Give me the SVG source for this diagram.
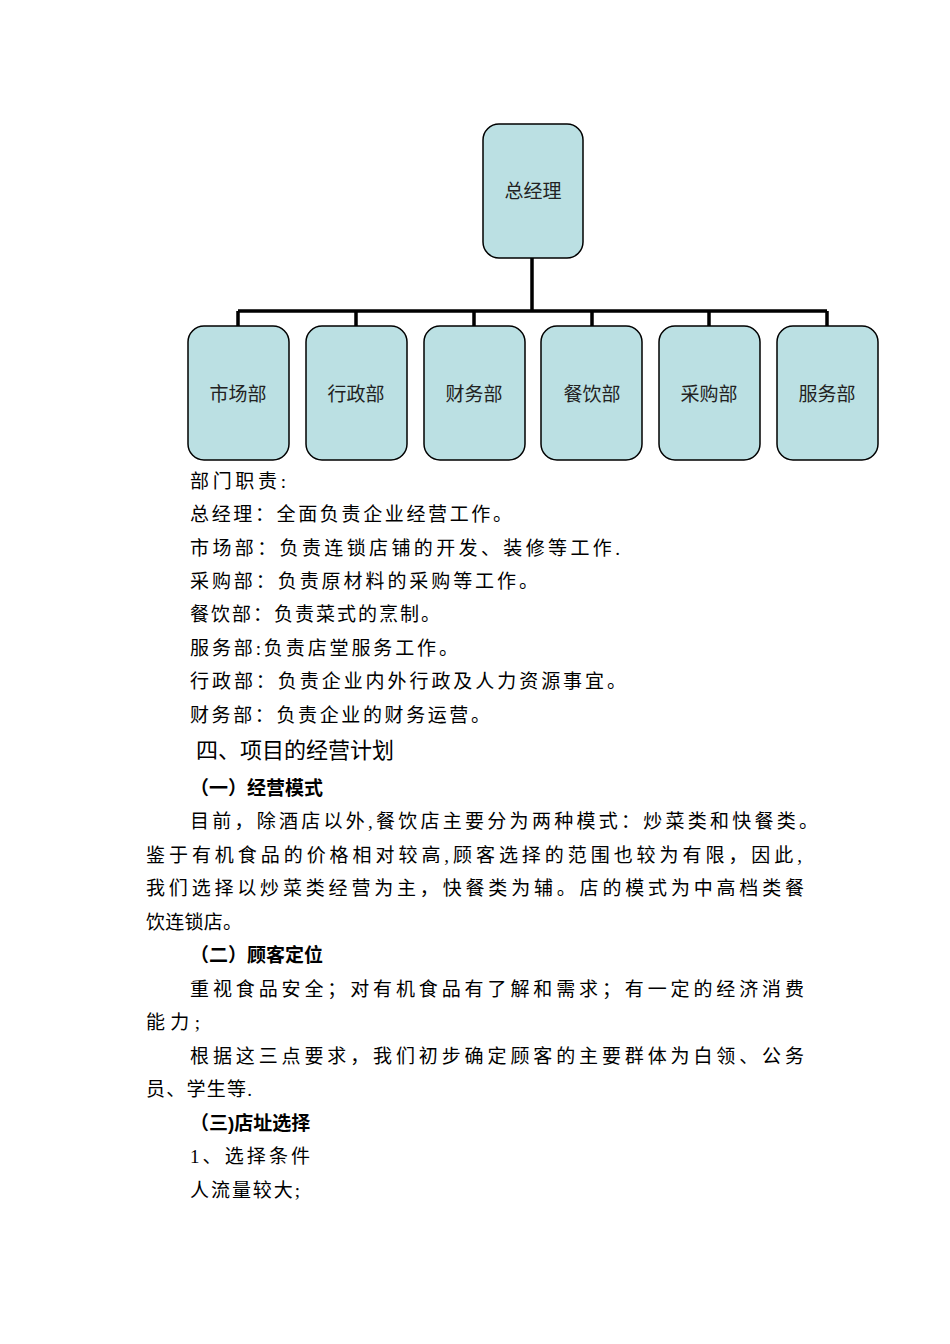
<svg xmlns="http://www.w3.org/2000/svg" width="950" height="1344" viewBox="0 0 950 1344">
<style>
.n{fill:#bbe0e3;stroke:#000;stroke-width:1.5}
.nt{font-family:"Noto Sans CJK SC",sans-serif;font-size:19px;text-anchor:middle;fill:#222}
.t{font-family:"Liberation Serif","Noto Sans CJK SC",serif;font-size:19px;fill:#000}
.b{font-family:"Liberation Sans","Noto Sans CJK SC",sans-serif;font-size:19px;font-weight:bold;fill:#000}
.h{font-family:"Liberation Sans","Noto Sans CJK SC",sans-serif;font-size:22px;fill:#000}
.c{fill:none;stroke:#000;stroke-width:3.5}
</style>
<rect width="950" height="1344" fill="#fff"/>
<g id="connectors">
<path class="c" d="M532 258V311M238 311H827M238 311V326M356 311V326M474 311V326M592 311V326M709 311V326M827 311V326"/>
</g>
<g id="n0"><rect class="n" x="483" y="124" width="100" height="134" rx="16"/><text class="nt" x="533" y="198">总经理</text></g>
<g id="n1"><rect class="n" x="188" y="326" width="101" height="134" rx="16"/><text class="nt" x="238" y="401">市场部</text></g>
<g id="n2"><rect class="n" x="306" y="326" width="101" height="134" rx="16"/><text class="nt" x="356" y="401">行政部</text></g>
<g id="n3"><rect class="n" x="424" y="326" width="101" height="134" rx="16"/><text class="nt" x="474" y="401">财务部</text></g>
<g id="n4"><rect class="n" x="541" y="326" width="101" height="134" rx="16"/><text class="nt" x="592" y="401">餐饮部</text></g>
<g id="n5"><rect class="n" x="659" y="326" width="101" height="134" rx="16"/><text class="nt" x="709" y="401">采购部</text></g>
<g id="n6"><rect class="n" x="777" y="326" width="101" height="134" rx="16"/><text class="nt" x="827" y="401">服务部</text></g>
<g id="text">
<text class="t" x="190" y="488" textLength="96">部门职责:</text>
<text class="t" x="190" y="521" textLength="322">总经理：全面负责企业经营工作。</text>
<text class="t" x="190" y="555" textLength="430">市场部：负责连锁店铺的开发、装修等工作.</text>
<text class="t" x="190" y="588" textLength="348">采购部：负责原材料的采购等工作。</text>
<text class="t" x="190" y="621" textLength="250">餐饮部：负责菜式的烹制。</text>
<text class="t" x="190" y="655" textLength="268">服务部:负责店堂服务工作。</text>
<text class="t" x="190" y="688" textLength="436">行政部：负责企业内外行政及人力资源事宜。</text>
<text class="t" x="190" y="722" textLength="300">财务部：负责企业的财务运营。</text>
<text class="h" x="196" y="758">四、项目的经营计划</text>
<text class="b" x="190" y="795">（一）经营模式</text>
<text class="t" x="190" y="828" textLength="628">目前，除酒店以外,餐饮店主要分为两种模式：炒菜类和快餐类。</text>
<text class="t" x="146" y="862" textLength="656">鉴于有机食品的价格相对较高,顾客选择的范围也较为有限，因此,</text>
<text class="t" x="146" y="895" textLength="658">我们选择以炒菜类经营为主，快餐类为辅。店的模式为中高档类餐</text>
<text class="t" x="146" y="929" textLength="96">饮连锁店。</text>
<text class="b" x="190" y="962">（二）顾客定位</text>
<text class="t" x="190" y="996" textLength="614">重视食品安全；对有机食品有了解和需求；有一定的经济消费</text>
<text class="t" x="146" y="1029" textLength="54">能力;</text>
<text class="t" x="190" y="1063" textLength="614">根据这三点要求，我们初步确定顾客的主要群体为白领、公务</text>
<text class="t" x="146" y="1096" textLength="106">员、学生等.</text>
<text class="b" x="190" y="1130">（三)店址选择</text>
<text class="t" x="190" y="1163" textLength="120">1、选择条件</text>
<text class="t" x="190" y="1197" textLength="110">人流量较大;</text>
</g>
</svg>
